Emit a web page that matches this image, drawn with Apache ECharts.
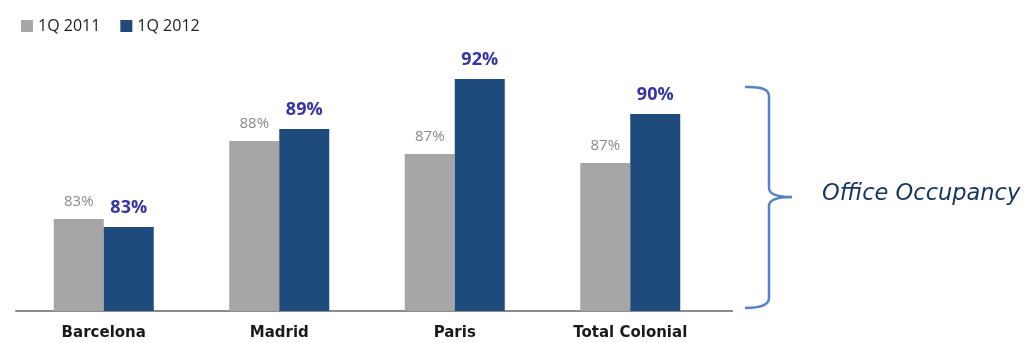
<!DOCTYPE html>
<html><head><meta charset="utf-8">
<script src="https://cdn.jsdelivr.net/npm/echarts@6/dist/echarts.min.js"></script>
<style>html,body{margin:0;padding:0;background:#fff}#c{width:1024px;height:343px}</style>
</head><body><div id="c"></div>
<script>
const categories = ['Barcelona', 'Madrid', 'Paris', 'Total Colonial'];
const seriesNames = ['1Q 2011', '1Q 2012'];
const values2011 = [82.94, 87.97, 87.13, 86.55];
const values2012 = [82.42, 88.74, 91.97, 89.71];
const labels2011 = ['83%', '88%', '87%', '87%'];
const labels2012 = ['83%', '89%', '92%', '90%'];
const annotation = 'Office Occupancy';

const braceStyle = {stroke: '#5683c2', lineWidth: 2.5, fill: null};
const chart = echarts.init(document.getElementById('c'), null, {renderer: 'canvas'});
chart.setOption({
  animation: false,
  backgroundColor: '#fff',
  legend: {
    left: 21, top: 18, padding: 0, itemWidth: 12, itemHeight: 12, itemGap: 20, icon: 'rect',
    textStyle: {fontFamily: 'Open Sans', fontSize: 16, color: '#222'},
    data: seriesNames
  },
  grid: {left: 16, right: 306, top: 1, bottom: 32, containLabel: false},
  xAxis: {
    type: 'category', data: categories,
    axisLine: {lineStyle: {color: '#8c8c8c', width: 2}},
    axisTick: {show: false},
    axisLabel: {fontFamily: 'DejaVu Sans', fontWeight: 'bold', fontSize: 15, color: '#1a1a1a', margin: 15}
  },
  yAxis: {type: 'value', min: 77, max: 97, show: false, splitLine: {show: false}},
  series: [
    {
      name: seriesNames[0], type: 'bar', data: values2011, barWidth: 50, barGap: '0%',
      itemStyle: {color: '#a6a6a6'},
      label: {show: true, position: 'top', distance: 10,
        formatter: p => labels2011[p.dataIndex],
        fontFamily: 'Open Sans', fontSize: 15, color: '#8a8a8a'}
    },
    {
      name: seriesNames[1], type: 'bar', data: values2012, barWidth: 50,
      itemStyle: {color: '#1f4a7c'},
      label: {show: true, position: 'top', distance: 10,
        formatter: p => labels2012[p.dataIndex],
        fontFamily: 'Open Sans', fontWeight: 'bold', fontSize: 18, color: '#3535a0'}
    }
  ],
  graphic: [
    {type: 'line', shape: {x1: 718, y1: 311, x2: 733, y2: 311}, style: {stroke: '#8c8c8c', lineWidth: 2}},
    {type: 'bezierCurve', shape: {x1: 745, y1: 87, cpx1: 769, cpy1: 86, x2: 769, y2: 96}, style: braceStyle},
    {type: 'line', shape: {x1: 769, y1: 96, x2: 769, y2: 188}, style: braceStyle},
    {type: 'bezierCurve', shape: {x1: 769, y1: 188, cpx1: 769, cpy1: 197, x2: 792, y2: 197}, style: braceStyle},
    {type: 'bezierCurve', shape: {x1: 792, y1: 197, cpx1: 769, cpy1: 197, x2: 769, y2: 206}, style: braceStyle},
    {type: 'line', shape: {x1: 769, y1: 206, x2: 769, y2: 298}, style: braceStyle},
    {type: 'bezierCurve', shape: {x1: 769, y1: 298, cpx1: 769, cpy1: 308, x2: 745, y2: 308}, style: braceStyle},
    {type: 'text', x: 822, y: 194, style: {text: annotation, font: 'italic 22.5px "DejaVu Sans"', fill: '#173561', textVerticalAlign: 'middle'}}
  ]
});
</script></body></html>
